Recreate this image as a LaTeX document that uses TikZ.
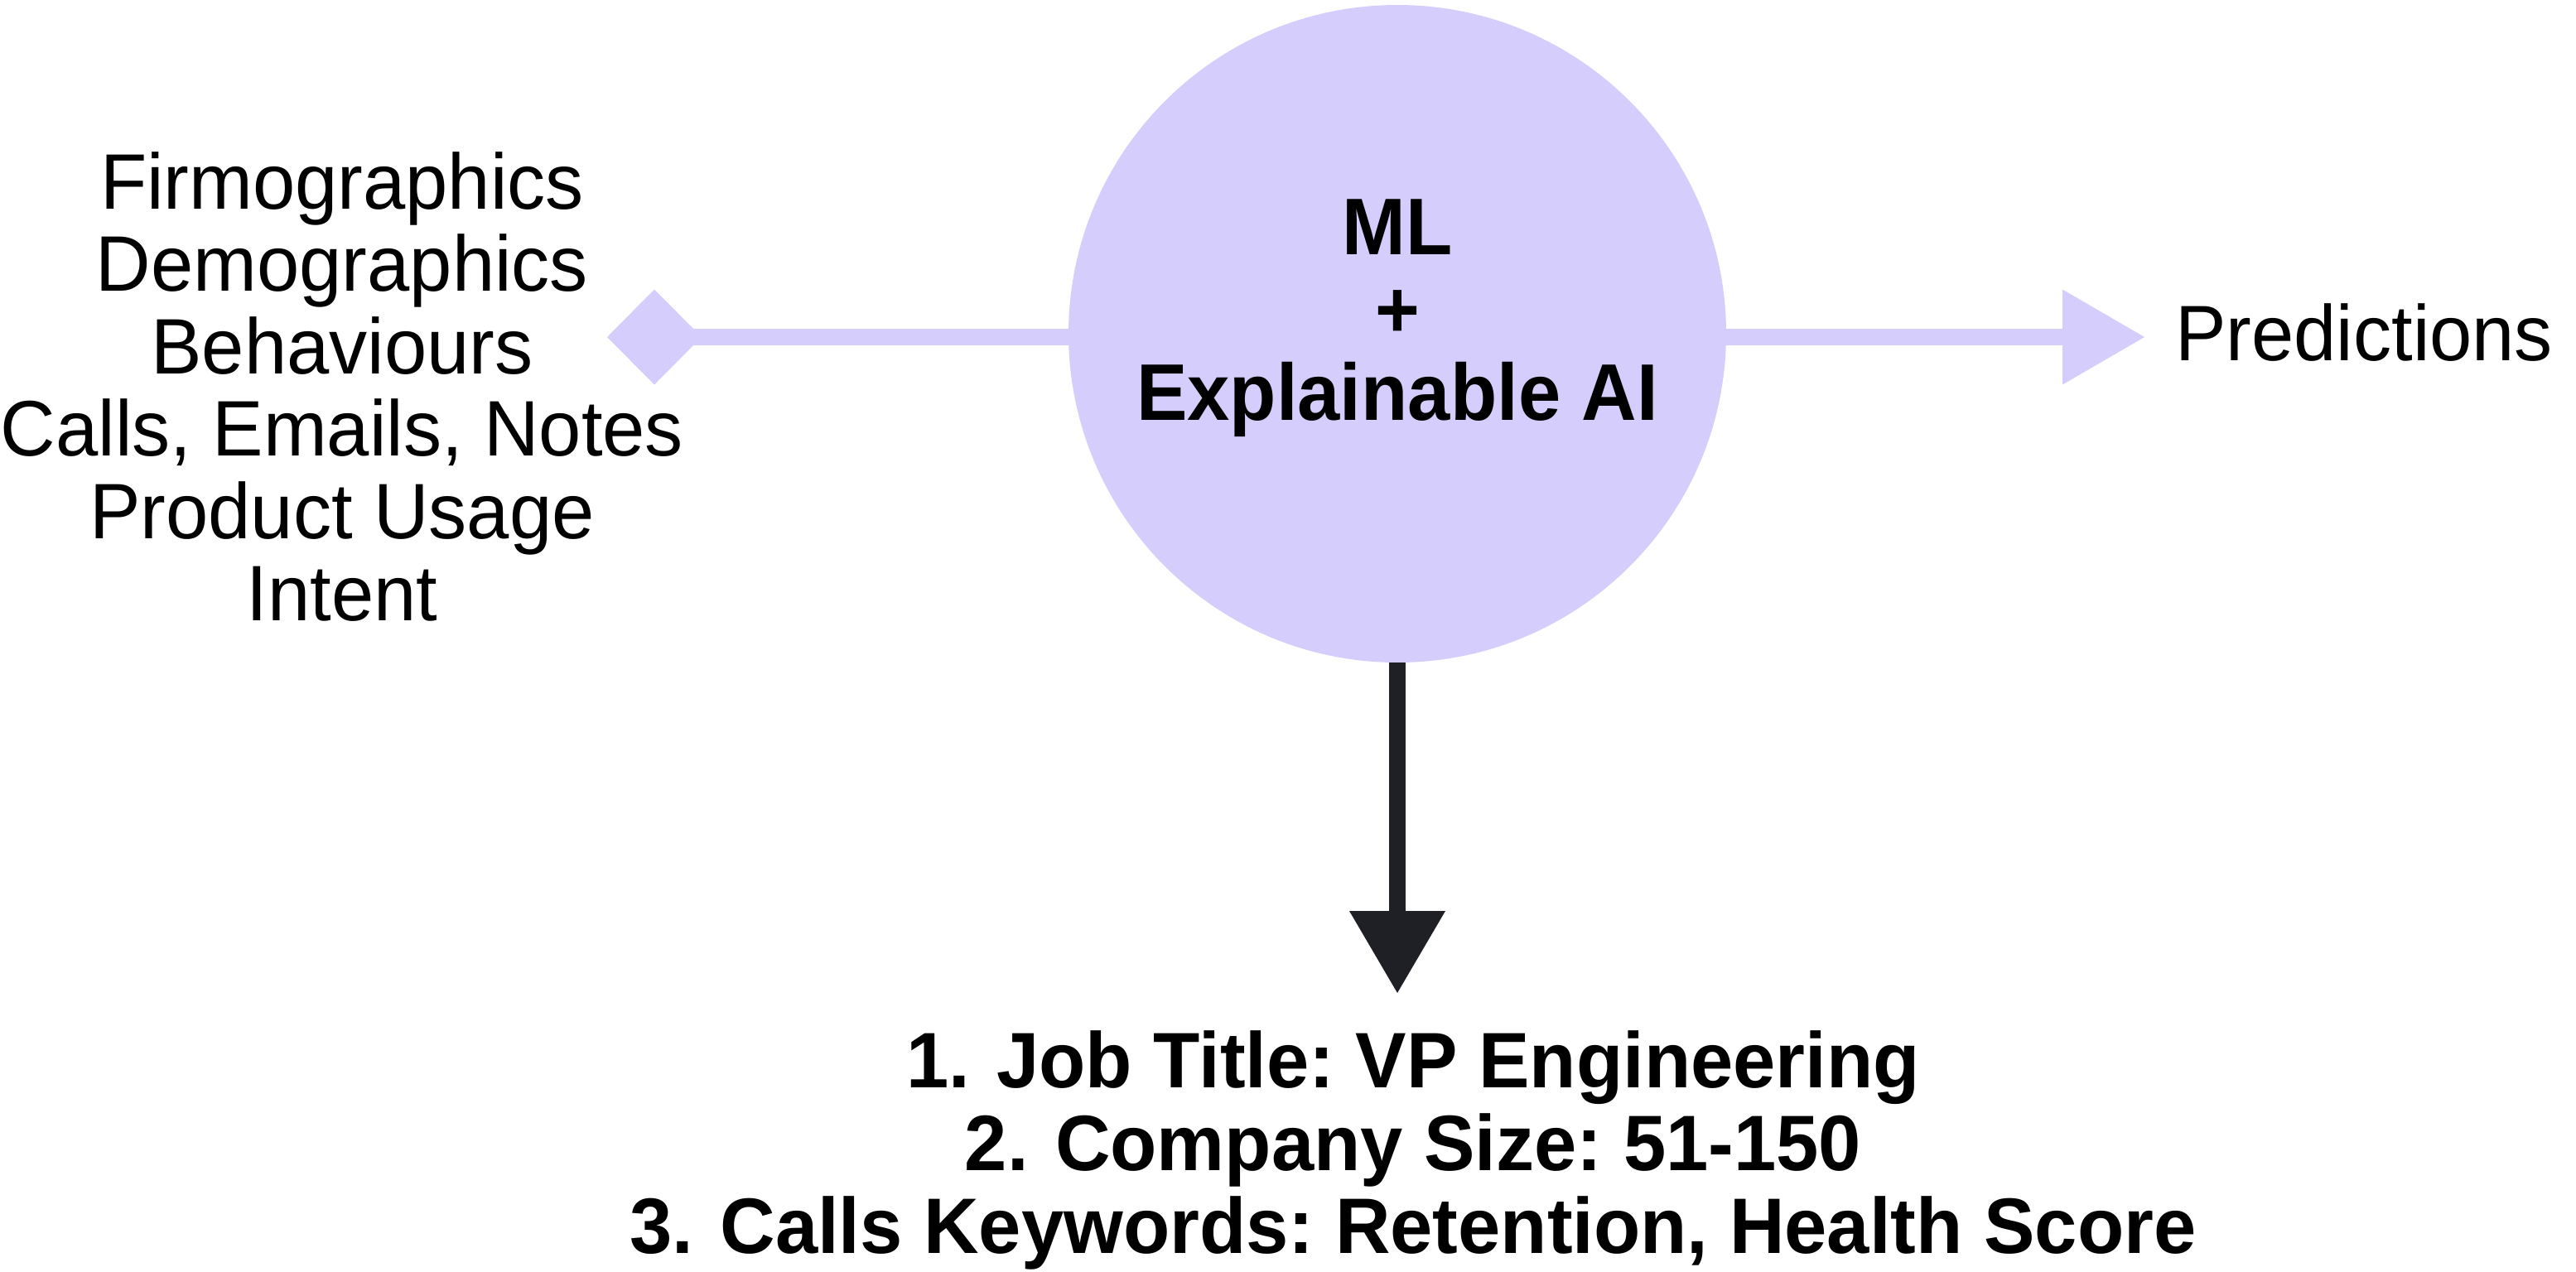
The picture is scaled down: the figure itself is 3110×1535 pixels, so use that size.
\documentclass[tikz,border=0pt]{standalone}
\usepackage{fontspec}
\setmainfont{Liberation Sans}[FakeStretch=0.97]
\newfontfamily\heavy{Liberation Sans}[FakeStretch=0.95]
\newfontfamily\heavylist{Liberation Sans}[FakeStretch=0.97]
\usetikzlibrary{arrows.meta}
\definecolor{lav}{HTML}{D5CEFC}
\definecolor{ink}{HTML}{1F1F26}
\frenchspacing
\tikzset{
  lavline/.style={draw=lav, line width=20pt},
  inkline/.style={draw=ink, line width=20pt},
  plain/.style={font=\frenchspacing\fontsize{95pt}{100pt}\selectfont, inner sep=0pt, anchor=base},
  boldtxt/.style={font=\frenchspacing\heavylist\bfseries\fontsize{95pt}{100pt}\selectfont, inner sep=0pt, anchor=base},
  circtxt/.style={font=\heavy\bfseries\fontsize{97pt}{100pt}\selectfont, inner sep=0pt, anchor=base},
}
\begin{document}
\begin{tikzpicture}[x=1pt,y=-1pt]
\useasboundingbox[fill=white] (0,0) rectangle (3110,1535);
% central circle
\node[circle, fill=lav, minimum size=794pt, inner sep=0pt] (ml) at (1687,403) {};
\node[circtxt] (mlA) at (1687,307) {ML};
\node[circtxt] (mlB) at (1687,407) {+};
\node[circtxt] (mlC) at (1687,507) {Explainable AI};
% connectors
\coordinate (dtip) at (733,407);
\coordinate (rtip) at (2589,407);
\coordinate (btip) at (1687,1199);
\draw[lavline, {Diamond[length=114pt,width=115pt,line width=0pt]}-] (dtip) -- (dtip -| ml.west);
\draw[lavline, -{Triangle[length=99pt,width=115pt,line width=0pt]}] (rtip -| ml.east) -- (rtip);
\draw[inkline, -{Triangle[length=99pt,width=116pt,line width=0pt]}] (ml.south) -- (btip);
% inputs
\node[plain] (in1) at (413,252) {Firmographics};
\node[plain] (in2) at (413,351) {Demographics};
\node[plain] (in3) at (413,451) {Behaviours};
\node[plain] (in4) at (413,550) {Calls, Emails, Notes};
\node[plain] (in5) at (413,650) {Product Usage};
\node[plain] (in6) at (413,749) {Intent};
% output
\node[plain, anchor=base west] (pred) at (2626,435) {Predictions};
% explanation list
\node[boldtxt] (r1) at (1706,1313) {1.\hspace{0.34em}Job Title: VP Engineering};
\node[boldtxt] (r2) at (1706,1413) {2.\hspace{0.34em}Company Size: 51-150};
\node[boldtxt] (r3) at (1706,1513) {3.\hspace{0.34em}Calls Keywords: Retention, Health Score};
\end{tikzpicture}
\end{document}
